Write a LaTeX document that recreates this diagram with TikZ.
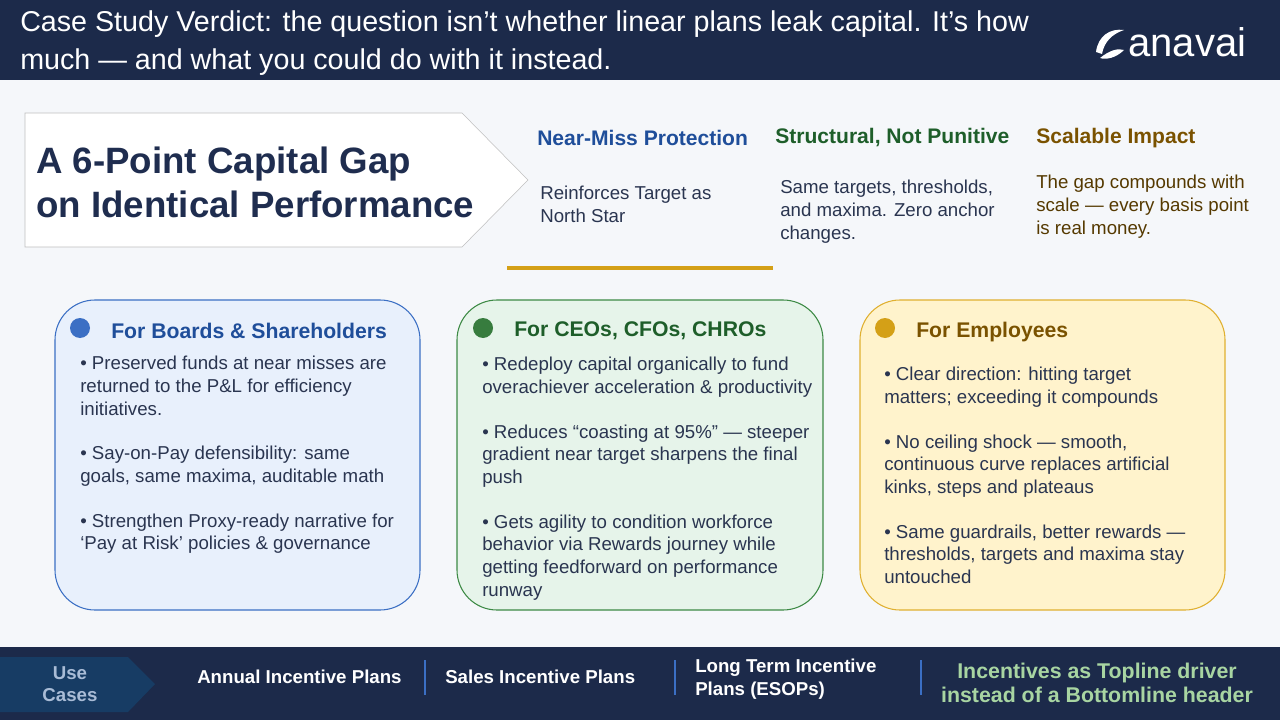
\documentclass[tikz,border=0pt]{standalone}
\usepackage{fontspec}
\setmainfont{Liberation Sans}
\usetikzlibrary{positioning}
\definecolor{navy}{HTML}{1C2A4A}
\definecolor{bgray}{HTML}{F5F7FA}
\definecolor{tnavy}{HTML}{1F2D4F}
\definecolor{cblue}{HTML}{1F4E9A}
\definecolor{cgreen}{HTML}{1E5E2A}
\definecolor{cbrown}{HTML}{7A5200}
\definecolor{bodyc}{HTML}{2A3550}
\definecolor{gold}{HTML}{D4A017}
\definecolor{fblue}{HTML}{E8F0FC}
\definecolor{lblue}{HTML}{3B6FC4}
\definecolor{fgreen}{HTML}{E6F4EA}
\definecolor{lgreen}{HTML}{3D8A45}
\definecolor{fyel}{HTML}{FFF3CC}
\definecolor{lyel}{HTML}{E0B030}
\definecolor{chev}{HTML}{173C64}
\definecolor{usec}{HTML}{A9BCD6}
\definecolor{mint}{HTML}{A8D5A2}
\tikzset{
  body/.style={anchor=north west,align=left,inner sep=0pt,font=\fontsize{14}{17}\selectfont,text=bodyc},
  coltitle/.style={anchor=west,inner sep=0pt,font=\fontsize{15.8}{18}\selectfont\bfseries},
  boxtitle/.style={anchor=west,inner sep=0pt,font=\fontsize{15.9}{18}\selectfont\bfseries},
  card/.style={rounded corners=30pt,line width=0.8pt},
  usecase/.style={anchor=west,inner sep=0pt,align=left,text=white,font=\fontsize{14}{17}\selectfont\bfseries},
  sep/.style={draw=lblue,line width=2pt},
}
\begin{document}
\begin{tikzpicture}[x=0.75pt,y=-0.75pt]
\useasboundingbox (0,0) rectangle (1280,720);
\fill[bgray] (0,0) rectangle (1280,720);
% header
\fill[navy] (0,0) rectangle (1280,80);
\node[anchor=west,inner sep=0pt,align=left,text=white,font=\fontsize{21.5}{28}\selectfont] (head) at (20,43)
  {Case Study Verdict: the question isn’t whether linear plans leak capital. It’s how\\much — and what you could do with it instead.};
\node[anchor=west,inner sep=0pt,text=white,font=\fontsize{30}{30}\selectfont] (logo) at (1128,42) {anavai};
\fill[white] (1096,52) .. controls (1098,36) and (1110,28) .. (1124,30)
  .. controls (1112,34) and (1104,42) .. (1102,54) -- cycle;
\fill[white] (1100,58) .. controls (1110,50) and (1118,48) .. (1124,50)
  .. controls (1116,58) and (1106,60) .. (1100,58) -- cycle;
% title arrow
\draw[fill=white,draw=gray!50] (25,113) -- (462,113) -- (528,180) -- (462,247) -- (25,247) -- cycle;
\node[anchor=west,inner sep=0pt,align=left,text=tnavy,font=\fontsize{27.5}{33}\selectfont\bfseries] (title) at (36,182)
  {A 6-Point Capital Gap\\on Identical Performance};
% three points
\node[coltitle,text=cblue] (p1) at (537,138) {Near-Miss Protection};
\node[coltitle,text=cgreen] (p2) at (775,137) {Structural, Not Punitive};
\node[coltitle,text=cbrown] (p3) at (1036,138) {Scalable Impact};
\node[body] (p1b) at (540,186) {Reinforces Target as\\North Star};
\node[body] (p2b) at (780,180) {Same targets, thresholds,\\and maxima. Zero anchor\\changes.};
\node[body,text=cbrown!70!black] (p3b) at (1036,175) {The gap compounds with\\scale — every basis point\\is real money.};
\draw[gold,line width=2.5pt] (507,268) -- (773,268);
% cards
\draw[card,fill=fblue,draw=lblue] (55,300) rectangle (420,610);
\draw[card,fill=fgreen,draw=lgreen] (457,300) rectangle (823,610);
\draw[card,fill=fyel,draw=lyel] (860,300) rectangle (1225,610);
\fill[lblue] (80,328) circle (10);
\fill[lgreen!90!black] (483,328) circle (10);
\fill[gold] (885,328) circle (10);
\node[boxtitle,text=cblue] (b1) at (111,331) {For Boards \& Shareholders};
\node[boxtitle,text=cgreen] (b2) at (514,331) {For CEOs, CFOs, CHROs};
\node[boxtitle,text=cbrown] (b3) at (916,332) {For Employees};
\node[body] (b1t) at (80,356) {• Preserved funds at near misses are\\returned to the P\&L for efficiency\\initiatives.\\[16.5pt]
• Say-on-Pay defensibility: same\\goals, same maxima, auditable math\\[16.5pt]
• Strengthen Proxy-ready narrative for\\‘Pay at Risk’ policies \& governance};
\node[body] (b2t) at (482,357) {• Redeploy capital organically to fund\\overachiever acceleration \& productivity\\[16.5pt]
• Reduces “coasting at 95\%” — steeper\\gradient near target sharpens the final\\push\\[16.5pt]
• Gets agility to condition workforce\\behavior via Rewards journey while\\getting feedforward on performance\\runway};
\node[body] (b3t) at (884,367) {• Clear direction: hitting target\\matters; exceeding it compounds\\[16.5pt]
• No ceiling shock — smooth,\\continuous curve replaces artificial\\kinks, steps and plateaus\\[16.5pt]
• Same guardrails, better rewards —\\thresholds, targets and maxima stay\\untouched};
% footer
\fill[navy] (0,647) rectangle (1280,720);
\fill[chev] (0,657) -- (128,657) -- (155,684) -- (128,712) -- (0,712) -- cycle;
\node[align=center,inner sep=0pt,text=usec,font=\fontsize{14}{17}\selectfont\bfseries] (uc) at (70,684) {Use\\Cases};
\node[usecase] (u1) at (197,677) {Annual Incentive Plans};
\node[usecase] (u2) at (445,677) {Sales Incentive Plans};
\node[usecase] (u3) at (695,679) {Long Term Incentive\\Plans (ESOPs)};
\node[align=center,inner sep=0pt,text=mint,font=\fontsize{16}{18}\selectfont\bfseries] (u4) at (1097,683)
  {Incentives as Topline driver\\instead of a Bottomline header};
\draw[sep] (425,660) -- (425,695);
\draw[sep] (675,660) -- (675,695);
\draw[sep] (921,660) -- (921,695);
\end{tikzpicture}
\end{document}
